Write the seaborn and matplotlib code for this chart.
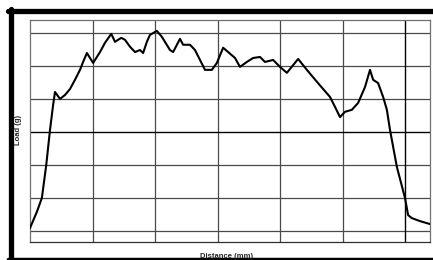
import matplotlib.pyplot as plt
import matplotlib.lines as mlines
import seaborn as sns
import pandas as pd

# load trace (grid units)
distance = [0.0, 0.11, 0.19, 0.26, 0.32, 0.37, 0.40, 0.48, 0.56, 0.64, 0.72, 0.80,
            0.85, 0.91, 1.01, 1.12, 1.20, 1.30, 1.36, 1.46, 1.52, 1.60, 1.68, 1.76,
            1.81, 1.87, 1.92, 2.03, 2.11, 2.24, 2.29, 2.40, 2.45, 2.56, 2.64, 2.80,
            2.91, 2.99, 3.09, 3.17, 3.28, 3.36, 3.47, 3.57, 3.68, 3.76, 3.89, 4.00,
            4.11, 4.29, 4.43, 4.59, 4.80, 4.88, 4.96, 5.04, 5.15, 5.25, 5.36, 5.44,
            5.49, 5.57, 5.65, 5.71, 5.76, 5.87, 6.00, 6.05, 6.11, 6.24, 6.40]
load = [0.09, 0.58, 1.00, 2.00, 3.06, 3.82, 4.21, 4.00, 4.12, 4.30, 4.58, 4.88,
        5.12, 5.39, 5.09, 5.42, 5.70, 5.97, 5.73, 5.85, 5.79, 5.58, 5.42, 5.48,
        5.39, 5.73, 5.94, 6.06, 5.88, 5.48, 5.42, 5.82, 5.64, 5.64, 5.48, 4.88,
        4.88, 5.09, 5.55, 5.42, 5.24, 4.97, 5.12, 5.24, 5.27, 5.12, 5.18, 4.97,
        4.79, 5.21, 4.88, 4.52, 4.06, 3.76, 3.45, 3.61, 3.67, 3.88, 4.36, 4.88,
        4.58, 4.48, 4.06, 3.67, 3.06, 1.94, 1.00, 0.48, 0.39, 0.30, 0.21]

grid_x = [1, 2, 3, 4, 5]
grid_y = [0, 1, 2, 4, 5, 6]
marker_x = 6
marker_y = 3

df = pd.DataFrame({"distance": distance, "load": load})

sns.set_style("white")
plt.rcParams["font.family"] = ["Liberation Sans", "DejaVu Sans"]

fig = plt.figure(figsize=(4.33, 2.60), dpi=100)
ax = fig.add_axes([30 / 433, 18 / 260, 400 / 433, 222 / 260])

for gx in grid_x:
    ax.axvline(gx, color="#4a4a4a", lw=0.9, zorder=1)
for gy in grid_y:
    ax.axhline(gy, color="#4a4a4a", lw=0.9, zorder=1)
ax.axvline(marker_x, color="black", lw=1.0, zorder=1)
ax.axhline(marker_y, color="black", lw=1.0, zorder=1)

sns.lineplot(data=df, x="distance", y="load", color="black", lw=1.5, ax=ax,
             zorder=3, sort=False)

ax.set_xlim(0, 6.4)
ax.set_ylim(-0.333, 6.39)
ax.set_xticks([])
ax.set_yticks([])
ax.set_xlabel("")
ax.set_ylabel("")
for side in ["top", "left", "right"]:
    ax.spines[side].set_color("#707070")
    ax.spines[side].set_linewidth(0.9)
ax.spines["bottom"].set_color("#303030")
ax.spines["bottom"].set_linewidth(0.9)

fig.text(227 / 433, 4 / 260, "Distance (mm)", ha="center", va="center",
         fontsize=5.5, fontweight="bold")
fig.text(18 / 433, 130 / 260, "Load (g)", ha="center", va="center",
         rotation=90, fontsize=5.5, fontweight="bold")

# heavy black frame (top, left, bottom)
fig.add_artist(mlines.Line2D([8 / 433, 1], [1 - 10.5 / 260] * 2, color="black",
                             lw=3.8, transform=fig.transFigure))
fig.add_artist(mlines.Line2D([10.5 / 433] * 2, [0, 1 - 8.5 / 260], color="black",
                             lw=3.8, transform=fig.transFigure))
fig.add_artist(mlines.Line2D([8 / 433, 1], [1.2 / 260] * 2, color="black",
                             lw=2.5, transform=fig.transFigure))

fig.savefig("out.png", dpi=100)
